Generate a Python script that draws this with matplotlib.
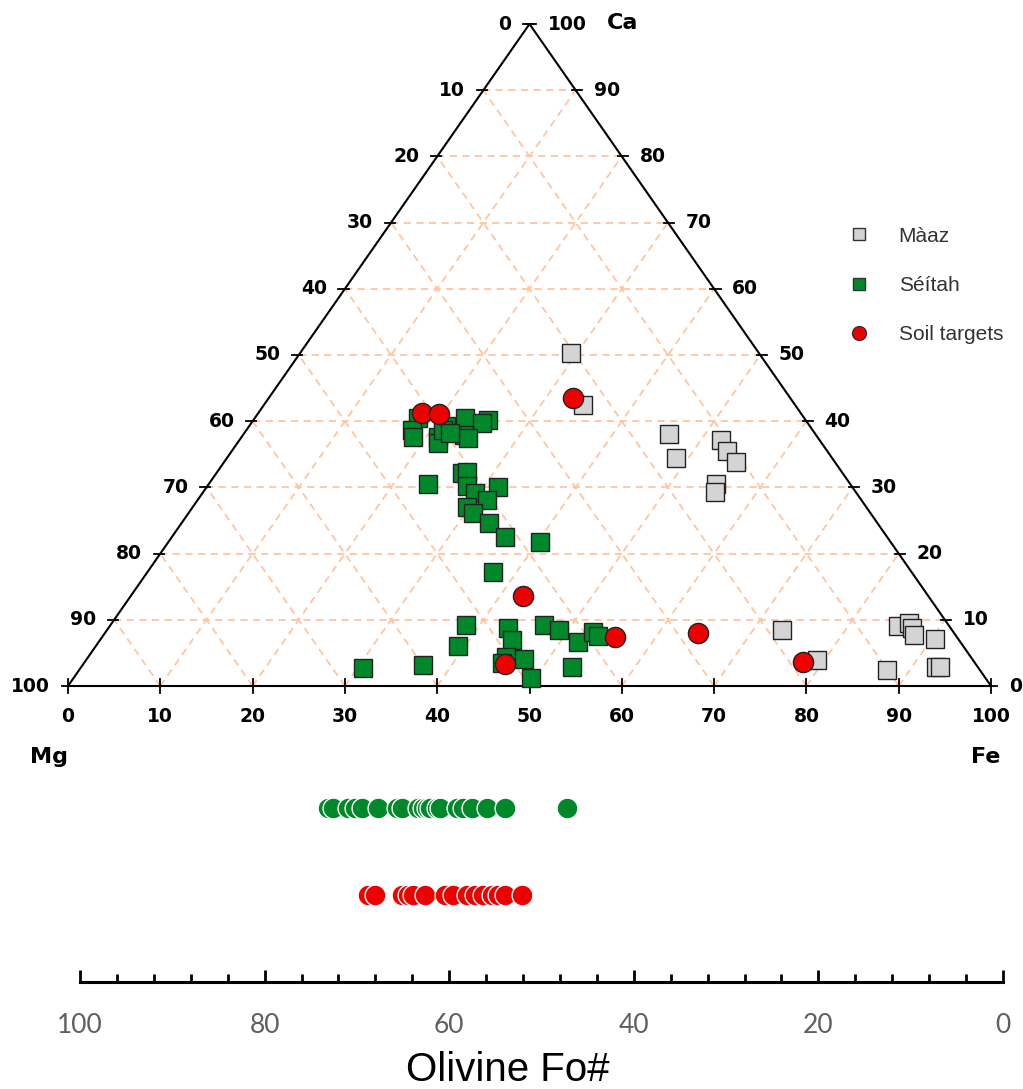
import numpy as np
import matplotlib.pyplot as plt
from matplotlib.lines import Line2D

W, H = 1023, 1089

# ternary data: Fe and Ca (mol %), Mg = 100 - Fe - Ca
maaz_fe = [29.4, 34.6, 46.1, 48.7, 52.1, 53.7, 55.5, 55.0, 55.5, 73.1, 79.2,
           85.4, 86.4, 87.0, 87.8, 90.4, 87.5, 92.6, 93.0]
maaz_ca = [50.3, 42.4, 38.1, 34.4, 37.2, 35.5, 33.8, 30.5, 29.3, 8.5, 3.9,
           9.1, 9.5, 8.8, 7.7, 7.1, 2.4, 2.9, 2.9]

seitah_fe = [17.7, 17.9, 18.6, 21.3, 21.7, 21.4, 22.8, 25.4, 25.0, 24.0, 24.6,
             21.3, 22.3, 26.6, 27.1, 23.7, 28.1, 29.5, 31.5, 31.3, 29.7, 30.8,
             33.3, 36.1, 40.2, 37.4, 38.5, 43.3, 44.7, 47.0, 49.0, 52.0, 52.8,
             53.6, 39.3, 30.6, 36.9, 45.3, 45.3, 47.3, 53.2, 49.6]
seitah_ca = [40.5, 38.7, 37.6, 37.6, 36.7, 39.2, 40.5, 40.2, 39.7, 37.9, 37.5,
             38.7, 38.2, 32.2, 32.3, 30.5, 30.2, 29.2, 30.1, 28.1, 27.0, 26.1,
             24.6, 22.5, 21.8, 17.2, 9.2, 8.8, 6.9, 9.2, 8.5, 6.6, 8.2,
             7.6, 6.0, 2.7, 3.2, 4.4, 3.5, 4.1, 2.9, 1.2]

soil_fe = [17.7, 19.6, 33.0, 42.5, 45.7, 55.6, 64.3, 77.8]
soil_ca = [41.2, 41.1, 43.5, 13.6, 3.3, 7.4, 8.0, 3.6]

# olivine Fo# for the strip below
seitah_fo = [73.1, 72.6, 71.0, 70.2, 69.4, 67.7, 65.7, 65.1, 63.4, 62.8, 62.4,
             62.1, 61.3, 61.0, 59.2, 58.5, 57.5, 55.9, 54.0, 47.2]
soil_fo = [68.8, 68.0, 65.1, 64.5, 63.9, 62.6, 60.5, 59.6, 58.1, 57.2, 56.3,
           55.4, 54.7, 54.0, 52.1]

ticks = np.arange(0, 101, 10)

GREEN = "#00882B"
RED = "#EE0000"
GREY = "#D4D4D4"
GRID = "#FFC5A0"


def tern(fe, ca):
    fe = np.asarray(fe, float)
    ca = np.asarray(ca, float)
    return fe + ca / 2, ca


fig = plt.figure(figsize=(W / 100, H / 100), dpi=100)
fig.patch.set_facecolor("white")

ax = fig.add_axes([68 / W, (H - 686) / H, 923 / W, 662 / H])
ax.set_xlim(0, 100)
ax.set_ylim(0, 100)
ax.axis("off")

# dashed grid
for v in ticks[1:-1]:
    kw = dict(color=GRID, lw=1.3, ls=(0, (4, 3)), zorder=1)
    ax.plot(*tern([0, 100 - v], [v, v]), **kw)
    ax.plot(*tern([v, v], [0, 100 - v]), **kw)
    ax.plot(*tern([100 - v, 0], [0, 100 - v]), **kw)

# triangle frame
ax.plot(*tern([0, 100, 0, 0], [0, 0, 100, 0]), color="black", lw=1.5,
        zorder=2, clip_on=False)

lab = dict(fontsize=13.5, fontweight="bold", family="DejaVu Sans", color="black")
for v in ticks:
    # bottom edge (Fe)
    ax.plot([v, v], [-1.1, 1.1], color="black", lw=1.3, clip_on=False, zorder=2)
    ax.annotate(str(v), (v, 0), xytext=(0, -22), textcoords="offset points",
                ha="center", va="center", **lab)
    # left edge (Ca level, labelled 100 - Ca)
    lx, ly = tern([0], [v])
    ax.plot([lx[0] - 0.7, lx[0] + 0.4], [v, v], color="black", lw=1.3,
            clip_on=False, zorder=2)
    ax.annotate(str(100 - v), (lx[0], v), xytext=(-13, 0),
                textcoords="offset points", ha="right", va="center", **lab)
    # right edge (Ca)
    rx, ry = tern([100 - v], [v])
    ax.plot([rx[0] - 0.4, rx[0] + 0.7], [v, v], color="black", lw=1.3,
            clip_on=False, zorder=2)
    ax.annotate(str(v), (rx[0], v), xytext=(13, 0),
                textcoords="offset points", ha="left", va="center", **lab)

corner = dict(fontsize=16, fontweight="bold", family="DejaVu Sans")
ax.annotate("Ca", (50, 100), xytext=(67, 1), textcoords="offset points",
            ha="center", va="center", **corner)
ax.annotate("Mg", (0, 0), xytext=(-14, -51), textcoords="offset points",
            ha="center", va="center", **corner)
ax.annotate("Fe", (100, 0), xytext=(-4, -51), textcoords="offset points",
            ha="center", va="center", **corner)

mk = dict(ls="none", mec="#222222", mew=1.0, clip_on=False)
ax.plot(*tern(maaz_fe, maaz_ca), marker="s", ms=12.5, mfc=GREY, zorder=3, **mk)
ax.plot(*tern(seitah_fe, seitah_ca), marker="s", ms=12.5, mfc=GREEN, zorder=4, **mk)
ax.plot(*tern(soil_fe, soil_ca), marker="o", ms=14.5, mfc=RED, zorder=5, **mk)

handles = [
    Line2D([], [], marker="s", ls="none", ms=9, mfc=GREY, mec="#333333", mew=1),
    Line2D([], [], marker="s", ls="none", ms=9, mfc=GREEN, mec="#333333", mew=1),
    Line2D([], [], marker="o", ls="none", ms=10, mfc=RED, mec="#333333", mew=1),
]
fig.legend(handles, ["Màaz", "Séítah", "Soil targets"], loc="upper left",
           bbox_to_anchor=(830 / W, 1 - 208 / H), frameon=False,
           prop={"family": "Liberation Sans", "size": 15}, labelcolor="#333333",
           handlelength=1.0, handletextpad=1.4, labelspacing=1.45)

# olivine Fo# strip
ax2 = fig.add_axes([80 / W, (H - 982) / H, 923 / W, 200 / H])
ax2.set_xlim(100, 0)
ax2.set_ylim(0, 2.3)
for s in ("top", "left", "right"):
    ax2.spines[s].set_visible(False)
ax2.spines["bottom"].set_linewidth(2.2)
ax2.set_yticks([])
ax2.set_xticks(np.arange(0, 101, 20))
ax2.set_xticks(np.arange(0, 101, 4), minor=True)
ax2.tick_params(axis="x", which="major", direction="in", length=9, width=2,
                pad=22, labelsize=19, labelcolor="#5F5F5F")
ax2.tick_params(axis="x", which="minor", direction="in", length=6, width=2)
for t in ax2.get_xticklabels():
    t.set_family("Lato")

row = dict(ls="none", marker="o", ms=15, mec="white", mew=1.0, clip_on=False)
ax2.plot(seitah_fo, np.full(len(seitah_fo), 2.0), mfc=GREEN, **row)
ax2.plot(soil_fo, np.full(len(soil_fo), 1.0), mfc=RED, **row)

fig.text(508 / W, 1 - 1070 / H, "Olivine Fo#", ha="center", va="center",
         fontsize=29, family="Liberation Sans", color="black")

fig.savefig("out.png", dpi=100, facecolor="white")
